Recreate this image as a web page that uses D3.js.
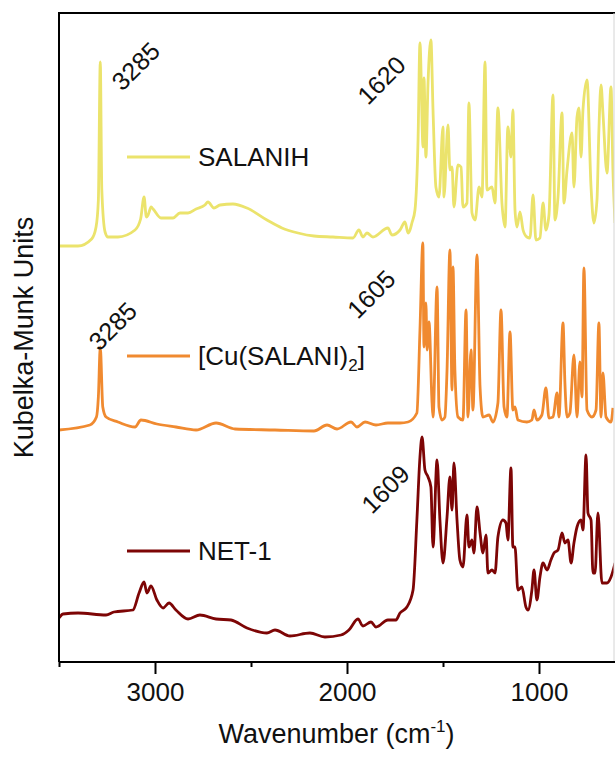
<!DOCTYPE html>
<html>
<head>
<meta charset="utf-8">
<script src="https://cdn.jsdelivr.net/npm/d3@7"></script>
<style>
  html, body { margin: 0; padding: 0; background: #fff; }
  svg { display: block; font-family: "Liberation Sans", Arial, sans-serif; }
</style>
</head>
<body>
<svg id="chart" width="615" height="757"></svg>
<script>
// Diffuse-reflectance IR spectra, [wavenumber (cm-1), Kubelka-Munk intensity]
const salanih = [[3500,0.1],[3401,0.1],[3330,0.8],[3307,2.0],[3295,4.7],[3285,18.5],[3277,5.7],[3260,1.5],[3245,1.0],[3193,1.0],[3104,1.7],[3075,2.8],[3057,5.0],[3045,3.0],[3036,3.2],[3020,4.0],[3010,3.8],[2969,2.9],[2906,2.9],[2870,3.4],[2828,3.4],[2786,3.8],[2740,4.2],[2724,4.5],[2693,3.9],[2661,4.2],[2594,4.3],[2521,3.9],[2417,2.7],[2339,1.9],[2255,1.4],[2172,1.1],[2073,1.0],[1969,0.9],[1938,1.7],[1917,1.0],[1896,1.4],[1865,1.0],[1787,1.9],[1766,1.2],[1724,1.7],[1698,2.5],[1682,1.4],[1672,1.7],[1662,2.4],[1646,3.7],[1630,10.7],[1620,20.4],[1604,10.0],[1599,16.9],[1589,9.0],[1578,16.4],[1563,20.7],[1552,13.7],[1537,6.0],[1521,5.0],[1500,12.0],[1495,5.0],[1474,12.2],[1464,7.7],[1453,8.0],[1443,4.0],[1422,8.2],[1406,8.0],[1396,4.0],[1375,4.4],[1365,14.4],[1349,3.4],[1333,2.7],[1312,6.0],[1297,5.0],[1281,18.5],[1271,5.7],[1245,6.0],[1229,4.4],[1214,13.9],[1193,4.4],[1177,2.0],[1162,12.0],[1146,9.0],[1136,13.7],[1125,3.7],[1115,2.0],[1099,3.5],[1083,1.7],[1063,1.0],[1047,0.9],[1031,5.2],[1016,0.7],[995,0.9],[979,4.4],[964,1.7],[948,3.2],[927,15.2],[917,2.7],[901,5.0],[880,13.4],[870,4.4],[854,7.7],[828,11.4],[818,6.0],[802,13.0],[792,13.9],[781,9.0],[771,13.7],[750,16.7],[729,6.0],[714,2.4],[698,4.7],[688,11.7],[677,16.2],[667,13.4],[646,7.4],[625,16.0],[615,7.7],[604,2.4]];

const cuSalani = [[3500,0.2],[3339,0.7],[3305,1.5],[3295,3.5],[3285,8.5],[3272,2.5],[3255,1.5],[3193,1.0],[3104,0.5],[3073,1.2],[2990,0.8],[2891,0.5],[2786,0.2],[2682,0.9],[2583,0.3],[2375,0.2],[2172,0.1],[2104,0.7],[2052,0.3],[1979,1.0],[1948,0.5],[1906,1.0],[1849,0.7],[1787,0.9],[1724,0.9],[1682,1.0],[1636,1.9],[1620,10.2],[1605,18.9],[1599,8.5],[1589,12.9],[1583,8.2],[1573,11.0],[1557,2.9],[1552,1.5],[1531,14.5],[1521,2.5],[1505,1.2],[1490,1.5],[1479,6.2],[1464,18.2],[1453,4.2],[1448,16.5],[1438,6.2],[1422,1.5],[1396,1.2],[1380,12.2],[1370,1.5],[1354,8.2],[1344,2.2],[1323,17.7],[1307,4.5],[1292,1.5],[1260,1.7],[1240,1.0],[1214,2.9],[1198,12.2],[1182,2.5],[1167,1.5],[1151,10.0],[1136,2.2],[1125,2.5],[1110,1.2],[1063,1.0],[1037,1.2],[1026,2.2],[1011,1.2],[985,1.7],[964,4.4],[948,1.4],[927,1.5],[906,3.9],[896,1.5],[875,10.9],[865,4.9],[854,1.5],[839,1.9],[818,7.7],[802,1.5],[787,7.0],[776,3.5],[766,16.4],[750,2.2],[724,1.5],[703,2.2],[688,10.9],[677,1.5],[667,5.9],[651,1.5],[625,1.0],[615,2.4]];

const net1 = [[3500,2.2],[3479,2.6],[3401,2.7],[3255,2.5],[3214,2.8],[3115,3.0],[3083,4.7],[3057,5.8],[3042,4.7],[3021,5.4],[2990,4.0],[2958,3.2],[2927,3.7],[2891,3.0],[2828,2.1],[2766,2.5],[2682,2.1],[2604,2.0],[2521,1.2],[2417,0.7],[2375,1.0],[2297,0.4],[2193,0.7],[2115,0.3],[2031,0.5],[1990,1.0],[1943,2.1],[1917,1.4],[1875,1.8],[1849,1.3],[1787,2.0],[1745,2.0],[1724,2.7],[1688,3.3],[1656,5.0],[1636,12.0],[1620,18.3],[1609,20.3],[1594,17.0],[1578,16.3],[1563,15.3],[1552,9.3],[1531,18.0],[1516,12.0],[1500,7.7],[1479,12.3],[1464,16.3],[1453,13.0],[1443,17.7],[1427,12.0],[1412,8.0],[1396,7.3],[1375,12.5],[1365,9.3],[1349,10.0],[1339,8.7],[1323,13.3],[1307,10.7],[1292,8.7],[1276,10.5],[1266,6.7],[1245,7.0],[1229,6.7],[1214,10.3],[1188,12.0],[1172,11.7],[1162,10.0],[1146,17.2],[1136,9.3],[1125,9.3],[1110,5.0],[1089,5.3],[1068,3.3],[1057,3.0],[1037,5.0],[1026,7.0],[1011,4.0],[995,6.3],[979,7.7],[958,7.0],[938,8.0],[922,8.7],[901,9.0],[880,10.7],[865,9.7],[849,10.0],[833,7.7],[818,9.7],[802,11.3],[781,12.0],[771,11.0],[755,18.5],[745,12.7],[729,12.0],[719,6.7],[708,6.7],[693,12.7],[672,5.7],[646,5.7],[625,6.3],[604,7.7]];

const seriesNames = ["SALANIH", "[Cu(SALANI)2]", "NET-1"];
const seriesData = [salanih, cuSalani, net1];
const seriesOffsets = [41.5, 23.0, 2.2];
const seriesColors = ["#ebe36c", "#f08a30", "#7d0505"];

// peak assignments: [label, series index, wavenumber]
const peakLabels = [["3285", 0, 3285], ["1620", 0, 1620], ["3285", 1, 3285], ["1605", 1, 1605], ["1609", 2, 1609]];

const xTicksMajor = [3000, 2000, 1000];
const xTicksMinor = [3500, 2500, 1500];

const svg = d3.select("#chart");
const plotLeft = 59, plotRight = 614, plotTop = 13, plotBottom = 662;

const x = d3.scaleLinear().domain([3500, 600]).range([plotLeft, plotLeft + 2900 * 0.192]);
const y = d3.scaleLinear().domain([0, 65]).range([plotBottom, 12]);

svg.append("defs").append("clipPath").attr("id", "plot-clip")
  .append("rect").attr("x", plotLeft).attr("y", plotTop)
  .attr("width", plotRight - plotLeft).attr("height", plotBottom - plotTop);

const line = d3.line()
  .x(d => x(d[0]))
  .y(d => y(d[1]))
  .curve(d3.curveMonotoneX);

const traces = svg.append("g").attr("clip-path", "url(#plot-clip)");
seriesData.forEach((data, i) => {
  traces.append("path")
    .datum(data.map(d => [d[0], d[1] + seriesOffsets[i]]))
    .attr("fill", "none")
    .attr("stroke", seriesColors[i])
    .attr("stroke-width", 2.8)
    .attr("stroke-linejoin", "round")
    .attr("d", line);
});

// frame
svg.append("line").attr("x1", plotLeft).attr("x2", 615).attr("y1", plotTop).attr("y2", plotTop)
  .attr("stroke", "#000").attr("stroke-width", 2);
svg.append("line").attr("x1", plotRight).attr("x2", plotRight).attr("y1", plotTop).attr("y2", plotBottom)
  .attr("stroke", "#d4d4d4").attr("stroke-width", 1);
svg.append("line").attr("x1", plotLeft).attr("x2", plotLeft).attr("y1", plotTop - 1).attr("y2", plotBottom)
  .attr("stroke", "#000").attr("stroke-width", 2);

// x axis
const xAxis = d3.axisBottom(x).tickValues(xTicksMajor).tickSize(12).tickPadding(9).tickFormat(d3.format("d"));
const gx = svg.append("g").attr("transform", `translate(0,${plotBottom})`).call(xAxis);
gx.select(".domain").attr("d", `M${plotLeft},0H${plotRight + 1}`).attr("stroke-width", 2);
gx.selectAll(".tick line").attr("stroke-width", 2);
gx.selectAll(".tick text").attr("font-size", 26).attr("font-family", "Liberation Sans, Arial, sans-serif").attr("fill", "#111");
const gxMinor = d3.axisBottom(x).tickValues(xTicksMinor).tickSize(5).tickFormat("");
const gm = svg.append("g").attr("transform", `translate(0,${plotBottom})`).call(gxMinor);
gm.select(".domain").remove();
gm.selectAll(".tick line").attr("stroke-width", 2);

// axis titles
const xt = svg.append("text").attr("x", (plotLeft + plotRight) / 2).attr("y", 743)
  .attr("text-anchor", "middle").attr("font-size", 27).attr("fill", "#111");
xt.append("tspan").text("Wavenumber (cm");
xt.append("tspan").attr("font-size", 17).attr("dy", -11).text("-1");
xt.append("tspan").attr("dy", 11).text(")");

svg.append("text")
  .attr("transform", `translate(33,${(plotTop + plotBottom) / 2}) rotate(-90)`)
  .attr("text-anchor", "middle").attr("font-size", 27).attr("fill", "#111")
  .text("Kubelka-Munk Units");

// legend entries beside each trace
const legendY = [157, 356, 551];
seriesNames.forEach((name, i) => {
  svg.append("line").attr("x1", 127).attr("x2", 190).attr("y1", legendY[i]).attr("y2", legendY[i])
    .attr("stroke", seriesColors[i]).attr("stroke-width", 3);
  const t = svg.append("text").attr("x", 198).attr("y", legendY[i] + 9)
    .attr("font-size", 26).attr("fill", "#111");
  if (name === "[Cu(SALANI)2]") {
    t.append("tspan").text("[Cu(SALANI)");
    t.append("tspan").attr("font-size", 17).attr("dy", 6).text("2");
    t.append("tspan").attr("dy", -6).text("]");
  } else {
    t.text(name);
  }
});

// rotated peak annotations
const labelOffsets = [[22, 30], [-52, 63], [-1, 5], [-65, 77], [-50, 78]];
peakLabels.forEach(([txt, si, wn], k) => {
  const peak = seriesData[si].find(d => d[0] === wn);
  const px = x(wn) + labelOffsets[k][0];
  const py = y(peak[1] + seriesOffsets[si]) + labelOffsets[k][1];
  svg.append("text")
    .attr("transform", `translate(${px},${py}) rotate(-45)`)
    .attr("font-size", 25).attr("fill", "#111")
    .text(txt);
});
</script>
</body>
</html>
